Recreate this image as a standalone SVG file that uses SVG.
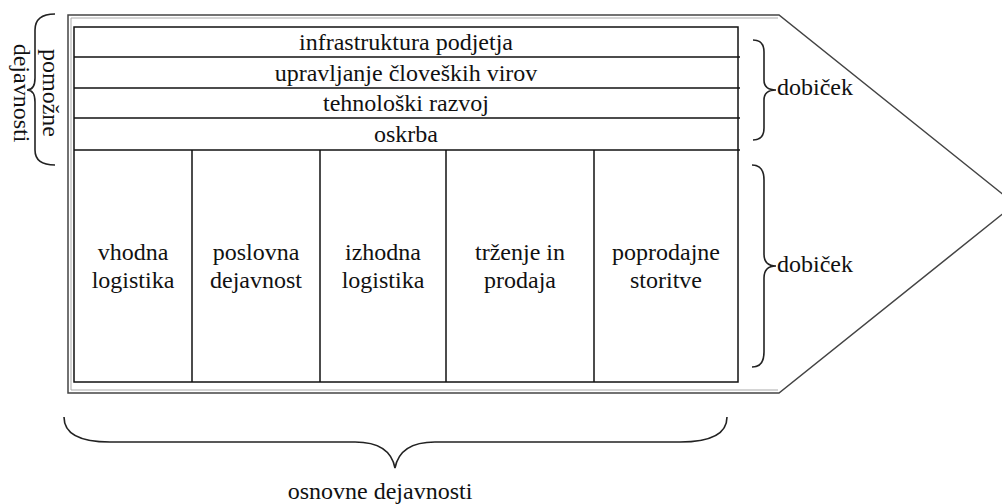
<svg xmlns="http://www.w3.org/2000/svg" width="1002" height="504" viewBox="0 0 1002 504">
<style>
text{font-family:"Liberation Serif","DejaVu Serif","Noto Serif",Tinos,FreeSerif,Times,serif;font-size:24px;fill:#111}
.t{text-anchor:middle}
.ln{stroke:#111;stroke-width:1.5;fill:none}
.br{stroke:#222;stroke-width:1.6;fill:none}
</style>
<rect width="1002" height="504" fill="#fff"/>
<g id="outer">
<polygon points="68,15 779,15 1015,204 779,393 68,393" fill="none" stroke="#444" stroke-width="1.5"/>
<polyline points="71,390 71,18 778,18" fill="none" stroke="#aaa" stroke-width="1"/>
<line x1="71" y1="390" x2="778" y2="390" stroke="#aaa" stroke-width="1"/>
</g>
<g id="frame">
<rect x="74" y="27" width="664" height="355" class="ln"/>
<line x1="74" y1="57" x2="740" y2="57" class="ln"/>
<line x1="74" y1="88" x2="740" y2="88" class="ln"/>
<line x1="74" y1="118" x2="740" y2="118" class="ln"/>
<line x1="74" y1="150" x2="740" y2="150" class="ln"/>
</g>
<g id="row-infrastruktura"><text class="t" x="406" y="50">infrastruktura podjetja</text></g>
<g id="row-upravljanje"><text class="t" x="406" y="81">upravljanje človeških virov</text></g>
<g id="row-tehnoloski"><text class="t" x="406" y="111">tehnološki razvoj</text></g>
<g id="row-oskrba"><text class="t" x="406" y="142">oskrba</text></g>
<g id="cell-vhodna">
<text class="t" x="133" y="260">vhodna</text>
<text class="t" x="133" y="288">logistika</text>
</g>
<g id="cell-poslovna">
<line x1="192" y1="150" x2="192" y2="382" class="ln"/>
<text class="t" x="256" y="260">poslovna</text>
<text class="t" x="256" y="288">dejavnost</text>
</g>
<g id="cell-izhodna">
<line x1="320" y1="150" x2="320" y2="382" class="ln"/>
<text class="t" x="383" y="260">izhodna</text>
<text class="t" x="383" y="288">logistika</text>
</g>
<g id="cell-trzenje">
<line x1="446" y1="150" x2="446" y2="382" class="ln"/>
<text class="t" x="520" y="260">trženje in</text>
<text class="t" x="520" y="288">prodaja</text>
</g>
<g id="cell-poprodajne">
<line x1="594" y1="150" x2="594" y2="382" class="ln"/>
<text class="t" x="666" y="260">poprodajne</text>
<text class="t" x="666" y="288">storitve</text>
</g>
<g id="connectors">
<path class="br" d="M55,14 Q35,14 35,30 L35,78 Q35,90 27,90 Q35,90 35,102 L35,150 Q35,165 55,165"/>
<path class="br" d="M753,40 Q764,40 764,52 L764,80 Q764,90 776,90 Q764,90 764,100 L764,128 Q764,140 753,140"/>
<path class="br" d="M752,165 Q764,165 764,180 L764,254 Q764,266 776,266 Q764,266 764,278 L764,352 Q764,367 752,367"/>
<path class="br" d="M64,417 Q64,442 110,442 L355,442 Q390,442 395,468 Q400,442 435,442 L680,442 Q727,442 727,417"/>
</g>
<g id="label-pomozne">
<text class="t" transform="translate(43,93) rotate(90)" x="0" y="0">pomožne</text>
<text class="t" transform="translate(14,93) rotate(90)" x="0" y="0">dejavnosti</text>
</g>
<g id="label-dobicek-1"><text x="777" y="95">dobiček</text></g>
<g id="label-dobicek-2"><text x="777" y="272">dobiček</text></g>
<g id="label-osnovne"><text class="t" x="380" y="499">osnovne dejavnosti</text></g>
</svg>
